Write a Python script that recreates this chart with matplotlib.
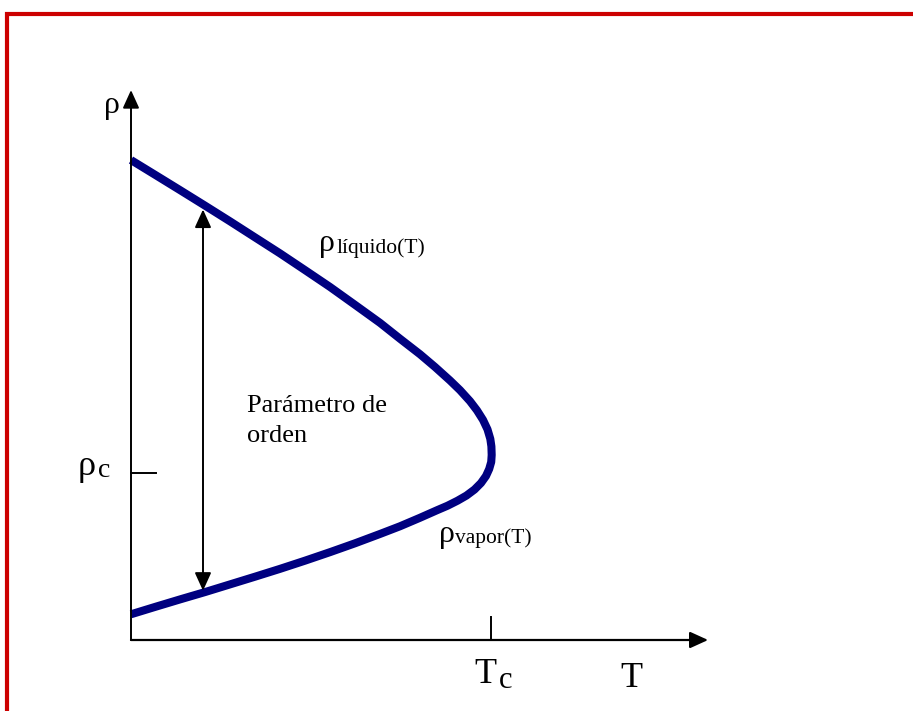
import matplotlib
matplotlib.use("Agg")
import matplotlib.pyplot as plt
from matplotlib.patches import Rectangle

plt.rcParams['font.family'] = ['Liberation Serif', 'DejaVu Serif']

# coexistence curve (T in units of Tc, rho in units of rho_c)
# liquid branch, from T=0 up to the critical point
liquid_T = [0.0, 0.0667, 0.1361, 0.2056, 0.275, 0.3444, 0.4139, 0.4833, 0.5528, 0.6222,
            0.6917, 0.7472, 0.8028, 0.8444, 0.8861, 0.9139, 0.9417, 0.9611, 0.9778,
            0.9903, 0.9981, 1.0011, 1.0019]
liquid_rho = [2.874, 2.786, 2.694, 2.601, 2.507, 2.411, 2.315, 2.215, 2.114, 2.007,
              1.899, 1.804, 1.711, 1.635, 1.554, 1.496, 1.430, 1.375, 1.318,
              1.261, 1.204, 1.159, 1.108]
# vapour branch, from the critical point back to T=0
vapor_T = [1.0006, 0.995, 0.9861, 0.9722, 0.9542, 0.9319, 0.9069, 0.8792, 0.85, 0.8028,
           0.7472, 0.6917, 0.6222, 0.5528, 0.4833, 0.4139, 0.3444, 0.275, 0.2056,
           0.1361, 0.0667, 0.0]
vapor_rho = [1.066, 1.024, 0.982, 0.940, 0.901, 0.865, 0.834, 0.804, 0.777, 0.732,
             0.681, 0.635, 0.579, 0.526, 0.475, 0.426, 0.379, 0.333, 0.287,
             0.243, 0.198, 0.154]

arrow_T = 0.2
arrow_rho = (0.295, 2.578)   # order parameter: vapour -> liquid
T_c = 1.0
rho_c = 1.0
x_axis_end = 1.603
y_axis_end = 3.293

navy = '#000080'

fig = plt.figure(figsize=(9.13, 7.11), dpi=100)
# axes box spans T = 0..1 and rho = 0..1
ax = fig.add_axes([131 / 913, 71 / 711, 360 / 913, 167 / 711])
ax.set_xlim(0, 1)
ax.set_ylim(0, 1)
ax.axis('off')

# red frame
fig.add_artist(Rectangle((7 / 913, -0.1), 1.2, 1.1 - 14 / 711, transform=fig.transFigure,
                         fill=False, edgecolor='#cc0000', linewidth=3, clip_on=False))

# axes with arrow heads
ax.annotate('', xy=(x_axis_end, 0), xytext=(0, 0), annotation_clip=False,
            arrowprops=dict(arrowstyle='-|>,head_length=0.55,head_width=0.25', mutation_scale=20,
                            color='black', lw=1.6, shrinkA=0, shrinkB=0))
ax.annotate('', xy=(0, y_axis_end), xytext=(0, 0), annotation_clip=False,
            arrowprops=dict(arrowstyle='-|>,head_length=0.55,head_width=0.25', mutation_scale=20,
                            color='black', lw=1.4, shrinkA=0, shrinkB=0))

# ticks at rho_c and T_c
ax.plot([0, 0.069], [rho_c, rho_c], color='black', lw=1.4, clip_on=False)
ax.plot([T_c, T_c], [0, 0.138], color='black', lw=1.4, clip_on=False)

# curve
ax.plot(liquid_T + vapor_T, liquid_rho + vapor_rho, color=navy, lw=5.8,
        solid_joinstyle='round', solid_capstyle='butt', clip_on=False)

# order parameter double arrow
ax.annotate('', xy=(arrow_T, arrow_rho[1]), xytext=(arrow_T, arrow_rho[0]), annotation_clip=False,
            arrowprops=dict(arrowstyle='<|-|>,head_length=0.55,head_width=0.25', mutation_scale=20,
                            color='black', lw=1.4, shrinkA=0, shrinkB=0))

# labels
txt = dict(va='baseline', ha='left', color='black', clip_on=False)
ax.text(-0.074, 3.156, 'ρ', fontsize=23, **txt)
ax.text(-0.149, 0.988, 'ρ', fontsize=26, **txt)
ax.text(-0.092, 0.976, 'c', fontsize=20, **txt)
ax.text(0.955, -0.257, 'T', fontsize=26, **txt)
ax.text(1.022, -0.287, 'c', fontsize=22, **txt)
ax.text(1.358, -0.281, 'T', fontsize=26, **txt)
ax.text(0.322, 1.365, 'Parámetro de', fontsize=19, **txt)
ax.text(0.322, 1.186, 'orden', fontsize=19, **txt)
ax.text(0.522, 2.329, 'ρ', fontsize=23, **txt)
ax.text(0.572, 2.317, 'líquido(T)', fontsize=15.5, **txt)
ax.text(0.855, 0.587, 'ρ', fontsize=23, **txt)
ax.text(0.900, 0.581, 'vapor(T)', fontsize=15.5, **txt)

fig.savefig('out.png', dpi=100)
